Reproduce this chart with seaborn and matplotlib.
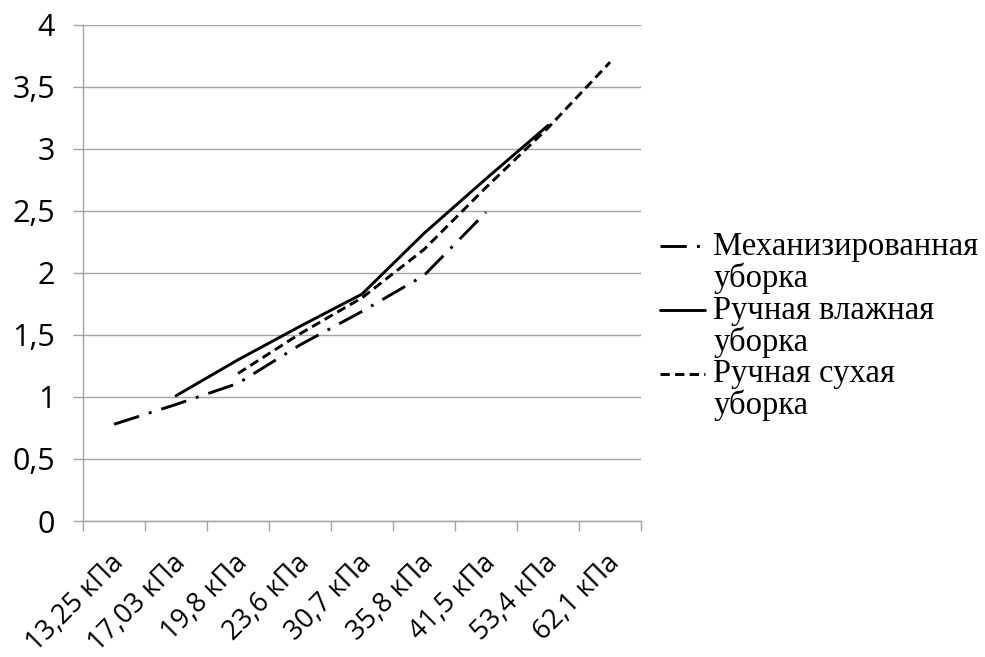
import numpy as np
import pandas as pd
import matplotlib
matplotlib.use("Agg")
import matplotlib.pyplot as plt
import seaborn as sns
from matplotlib.transforms import Affine2D, ScaledTranslation

# ---------------- data ----------------
categories = ["13,25 кПа", "17,03 кПа", "19,8 кПа", "23,6 кПа", "30,7 кПа",
              "35,8 кПа", "41,5 кПа", "53,4 кПа", "62,1 кПа"]
mech = [0.78, 0.94, 1.11, 1.42, 1.69, 1.98, 2.49, None, None]
wet = [None, 1.01, 1.30, 1.57, 1.83, 2.32, 2.76, 3.19, None]
dry = [None, None, 1.19, 1.51, 1.80, 2.19, 2.69, 3.17, 3.70]
series_names = ["Механизированная\nуборка", "Ручная влажная\nуборка", "Ручная сухая\nуборка"]
y_ticks = [0, 0.5, 1, 1.5, 2, 2.5, 3, 3.5, 4]
y_tick_labels = ["0", "0,5", "1", "1,5", "2", "2,5", "3", "3,5", "4"]

rows = []
for name, vals in zip(series_names, [mech, wet, dry]):
    for i, v in enumerate(vals):
        if v is not None:
            rows.append({"x": i, "y": v, "series": name})
df = pd.DataFrame(rows)

# ---------------- style ----------------
sns.set_theme(style="white")
plt.rcParams['font.family'] = ['Open Sans', 'DejaVu Sans']
plt.rcParams['text.color'] = 'black'
grid_c = "#a3a3a3"

fig = plt.figure(figsize=(9.85, 6.57), dpi=100)
ax = fig.add_axes([0.0843, 0.207, 0.5665, 0.755])

dashes = {series_names[0]: (9, 3.5, 1, 3.5),
          series_names[1]: "",
          series_names[2]: (3.2, 1.8)}
sns.lineplot(data=df, x="x", y="y", hue="series", style="series",
             hue_order=series_names, style_order=series_names,
             palette=["black"] * 3, dashes=dashes, linewidth=2.1,
             legend=False, ax=ax, sort=True)

ax.set_xlim(-0.5, len(categories) - 0.5)
ax.set_ylim(0, 4)
ax.set_xlabel("")
ax.set_ylabel("")

# y axis
ax.set_yticks(y_ticks)
ax.set_yticklabels(y_tick_labels, fontsize=22, color="black")
ax.yaxis.grid(True, color=grid_c, linewidth=1.0)
ax.xaxis.grid(False)
ax.tick_params(axis="y", which="major", direction="out", length=7,
               width=1, color=grid_c, pad=13, left=True)

# x axis: boundary ticks (major), centered labels (minor)
ax.set_xticks(np.arange(-0.5, len(categories), 1.0))
ax.set_xticklabels([])
ax.set_xticks(np.arange(len(categories)), minor=True)
ax.set_xticklabels(categories, minor=True, rotation=45, ha="right",
                   va="top", rotation_mode="anchor", fontsize=19.5, color="black")
ax.tick_params(axis="x", which="major", direction="out", length=7,
               width=1, color=grid_c, bottom=True)
ax.tick_params(axis="x", which="minor", length=0, pad=20)
for lbl in ax.get_xticklabels(minor=True):
    lbl.set_transform(lbl.get_transform() + ScaledTranslation(-3 / 72, 0, fig.dpi_scale_trans))

for s in ["top", "right"]:
    ax.spines[s].set_visible(False)
for s in ["left", "bottom"]:
    ax.spines[s].set_color(grid_c)
    ax.spines[s].set_linewidth(1.0)

# ---------------- legend ----------------
lines = ax.get_lines()[:3]
leg = fig.legend(lines, series_names, loc="upper left",
                 bbox_to_anchor=(0.670, 0.648), frameon=False,
                 prop={"family": ["Liberation Serif"], "size": 23.5},
                 handlelength=1.38, handletextpad=0.25, labelspacing=0.04,
                 borderpad=0, borderaxespad=0)
for t in leg.get_texts():
    t.set_linespacing(1.02)
    t.set_color("black")
for h in leg.legend_handles:
    h.set_color("black")
    h.set_transform(Affine2D().translate(0, 12) + h.get_transform())

fig.savefig("out.png", dpi=100)
